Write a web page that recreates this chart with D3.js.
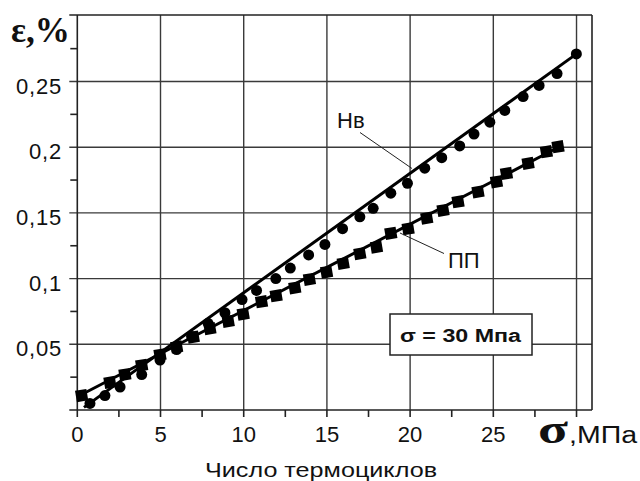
<!DOCTYPE html>
<html>
<head>
<meta charset="utf-8">
<script src="https://cdnjs.cloudflare.com/ajax/libs/d3/7.8.5/d3.min.js"></script>
<style>
  html, body { margin: 0; padding: 0; background: #fff; }
  text { font-family: "Liberation Sans", Arial, sans-serif; }
</style>
</head>
<body>
<div id="chart"></div>
<script>
// series Нв (circles)
const hvX = [0.76, 1.66, 2.57, 3.87, 4.97, 5.97, 6.87, 7.86, 8.87, 9.9, 10.77, 11.93, 12.8, 13.9, 14.88,
  15.94, 16.98, 17.78, 18.84, 19.84, 20.88, 21.9, 22.98, 23.84, 24.79, 25.69, 26.79, 27.75, 28.83, 29.99];
const hvY = [0.005, 0.011, 0.0175, 0.027, 0.038, 0.046, 0.056, 0.066, 0.074, 0.084, 0.091, 0.100, 0.108, 0.118, 0.126,
  0.138, 0.147, 0.1535, 0.165, 0.1725, 0.184, 0.192, 0.201, 0.210, 0.219, 0.228, 0.2385, 0.247, 0.256, 0.271];
// series ПП (squares)
const ppX = [0.26, 1.96, 2.86, 3.87, 4.97, 5.97, 6.97, 7.97, 9.07, 9.97, 11.07, 11.95, 13.07, 13.95, 14.98,
  15.98, 16.98, 17.98, 18.84, 19.88, 21.0, 21.98, 22.88, 24.08, 25.19, 25.79, 27.09, 28.19, 28.89];
const ppY = [0.011, 0.021, 0.027, 0.034, 0.042, 0.048, 0.0555, 0.062, 0.0675, 0.073, 0.0824, 0.087, 0.093, 0.0995, 0.105,
  0.1116, 0.119, 0.124, 0.1345, 0.138, 0.146, 0.152, 0.1585, 0.166, 0.1737, 0.180, 0.1877, 0.1966, 0.2004];
// straight fit lines
const hvFitX = [0.4, 30], hvFitY = [0.002, 0.271];
const ppFitX = [0, 29], ppFitY = [0.0101, 0.2005];

const xTicks = [0, 5, 10, 15, 20, 25, 30];
const xLabels = ["0", "5", "10", "15", "20", "25"];
const yTicks = [0, 0.05, 0.1, 0.15, 0.2, 0.25, 0.3];
const yLabels = ["0,05", "0,1", "0,15", "0,2", "0,25"];

const width = 640, height = 481;
const plotLeft = 77.3, plotRight = 592, plotTop = 15, plotBottom = 410;

const x = d3.scaleLinear().domain([0, 30.93]).range([plotLeft, plotRight]);
const y = d3.scaleLinear().domain([0, 0.3]).range([plotBottom, plotTop + 0.8]);

const svg = d3.select("#chart").append("svg")
  .attr("width", width).attr("height", height);

// grid
const grid = svg.append("g").attr("stroke", "#3a3a3a").attr("stroke-width", 1.4);
grid.selectAll("line.v").data(xTicks.slice(1)).join("line")
  .attr("x1", d => x(d)).attr("x2", d => x(d)).attr("y1", plotTop).attr("y2", plotBottom);
grid.selectAll("line.h").data(yTicks.slice(1, -1)).join("line")
  .attr("x1", plotLeft - 8).attr("x2", plotRight).attr("y1", d => y(d)).attr("y2", d => y(d));

// frame and axes
const frame = svg.append("g").attr("stroke", "#222").attr("stroke-width", 1.6);
frame.append("line").attr("x1", plotLeft - 8).attr("x2", plotRight).attr("y1", plotTop).attr("y2", plotTop);
frame.append("line").attr("x1", plotRight).attr("x2", plotRight).attr("y1", plotTop).attr("y2", plotBottom);
frame.append("line").attr("x1", plotLeft).attr("x2", plotLeft).attr("y1", plotTop).attr("y2", plotBottom + 7);
frame.append("line").attr("x1", plotLeft - 8).attr("x2", plotRight).attr("y1", plotBottom).attr("y2", plotBottom);

// minor ticks
const yMinor = d3.range(0.025, 0.3, 0.05);
frame.selectAll("line.ym").data(yMinor).join("line")
  .attr("x1", plotLeft - 7).attr("x2", plotLeft).attr("y1", d => y(d)).attr("y2", d => y(d));
const xMinor = d3.range(2.5, 31, 2.5);
frame.selectAll("line.xm").data(xMinor).join("line")
  .attr("x1", d => x(d)).attr("x2", d => x(d)).attr("y1", plotBottom).attr("y2", plotBottom + 7);

// tick labels
svg.append("g").selectAll("text").data(xLabels).join("text")
  .attr("x", (d, i) => x(xTicks[i])).attr("y", 442)
  .attr("text-anchor", "middle").attr("font-size", 22).attr("fill", "#111")
  .text(d => d);
svg.append("g").selectAll("text").data(yLabels).join("text")
  .attr("x", 62).attr("y", (d, i) => y(yTicks[i + 1]) + 12)
  .attr("text-anchor", "end").attr("font-size", 22).attr("fill", "#111")
  .attr("letter-spacing", 0.8)
  .text(d => d);

// fit lines
const line = d3.line().x(d => x(d[0])).y(d => y(d[1]));
svg.append("path").datum(d3.zip(hvFitX, hvFitY)).attr("d", line)
  .attr("stroke", "#000").attr("stroke-width", 3).attr("fill", "none");
svg.append("path").datum(d3.zip(ppFitX, ppFitY)).attr("d", line)
  .attr("stroke", "#000").attr("stroke-width", 3).attr("fill", "none");

// markers
svg.append("g").selectAll("circle").data(d3.zip(hvX, hvY)).join("circle")
  .attr("cx", d => x(d[0])).attr("cy", d => y(d[1])).attr("r", 5.5).attr("fill", "#000");

// squares are only slightly tilted along the line
const ang = Math.atan2(y(ppFitY[1]) - y(ppFitY[0]), x(ppFitX[1]) - x(ppFitX[0])) * 180 / Math.PI * 0.35;
const sq = 11.5;
svg.append("g").selectAll("rect").data(d3.zip(ppX, ppY)).join("rect")
  .attr("x", -sq / 2).attr("y", -sq / 2).attr("width", sq).attr("height", sq)
  .attr("transform", d => `translate(${x(d[0])},${y(d[1])}) rotate(${ang})`)
  .attr("fill", "#000");

// series labels with leaders
svg.append("line").attr("x1", 360).attr("y1", 132.5).attr("x2", 412).attr("y2", 168.5)
  .attr("stroke", "#222").attr("stroke-width", 1);
svg.append("text").attr("x", 337).attr("y", 128).attr("font-size", 22).attr("fill", "#111").text("Нв");
svg.append("line").attr("x1", 400).attr("y1", 233).attr("x2", 444).attr("y2", 253.5)
  .attr("stroke", "#222").attr("stroke-width", 1);
svg.append("text").attr("x", 448).attr("y", 268).attr("font-size", 22).attr("fill", "#111").text("ПП");

// annotation box
svg.append("rect").attr("x", 390).attr("y", 314).attr("width", 142).attr("height", 41)
  .attr("fill", "#fff").attr("stroke", "#222").attr("stroke-width", 1.5);
svg.append("text").attr("x", 400).attr("y", 342).attr("font-size", 18).attr("font-weight", "bold")
  .attr("textLength", 121).attr("lengthAdjust", "spacingAndGlyphs").attr("fill", "#111")
  .text("σ = 30 Мпа");

// axis titles
svg.append("text").attr("x", 11).attr("y", 42)
  .style("font-family", "'Liberation Serif', 'Times New Roman', serif")
  .attr("font-size", 36).attr("font-weight", "bold")
  .attr("textLength", 59).attr("lengthAdjust", "spacingAndGlyphs").attr("fill", "#111")
  .text("ε,%");
svg.append("text").attr("x", 538).attr("y", 443)
  .style("font-family", "'Liberation Serif', 'Times New Roman', serif")
  .attr("font-size", 40).attr("font-weight", "bold")
  .attr("textLength", 30).attr("lengthAdjust", "spacingAndGlyphs").attr("fill", "#111")
  .text("σ");
svg.append("text").attr("x", 569).attr("y", 443).attr("font-size", 23)
  .attr("textLength", 68).attr("lengthAdjust", "spacingAndGlyphs").attr("fill", "#111")
  .text(",МПа");
svg.append("text").attr("x", 205).attr("y", 477).attr("font-size", 20)
  .attr("textLength", 232).attr("lengthAdjust", "spacingAndGlyphs").attr("fill", "#111")
  .text("Число термоциклов");
</script>
</body>
</html>
